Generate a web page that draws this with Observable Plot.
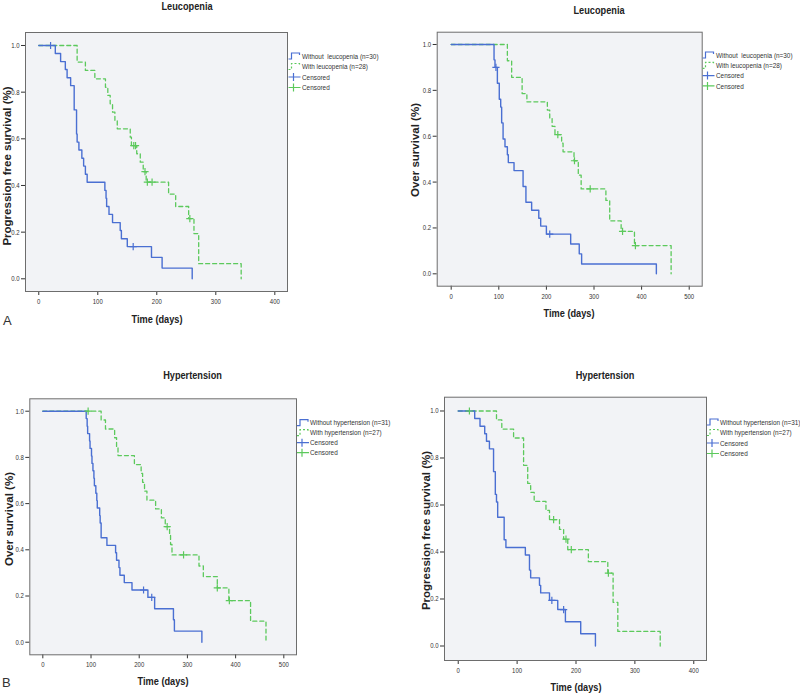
<!DOCTYPE html>
<html><head><meta charset="utf-8">
<script src="https://cdn.jsdelivr.net/npm/d3@7"></script>
<script src="https://cdn.jsdelivr.net/npm/@observablehq/plot@0.6"></script>
<style>
body{margin:0;background:#fff;}
#wrap{position:relative;width:800px;height:693px;overflow:hidden;background:#fff;}
</style></head><body><div id="wrap"></div>
<script>
// ---------- DATA ----------
// Panel 1: Leucopenia, progression free survival
const p1BlueT = [0, 28, 37, 45, 48, 54, 60, 64, 65, 68, 73, 76, 79, 82, 112, 114, 115, 119, 125, 138, 140, 150, 191, 209, 260];
const p1BlueS = [1, 0.966, 0.931, 0.897, 0.862, 0.828, 0.724, 0.621, 0.586, 0.552, 0.517, 0.483, 0.448, 0.414, 0.379, 0.345, 0.310, 0.276, 0.241, 0.207, 0.172, 0.138, 0.092, 0.046, 0];
const p1BlueCensT = [20, 160];
const p1BlueCensS = [1, 0.138];
const p1GreenT = [0, 65, 79, 95, 113, 117, 121, 125, 129, 133, 155, 157, 166, 172, 177, 182, 220, 232, 254, 263, 271, 343];
const p1GreenS = [1, 0.929, 0.893, 0.857, 0.821, 0.786, 0.750, 0.714, 0.679, 0.643, 0.607, 0.571, 0.536, 0.500, 0.459, 0.414, 0.363, 0.310, 0.258, 0.194, 0.065, 0];
const p1GreenCensT = [161, 164, 180, 184, 192, 256];
const p1GreenCensS = [0.571, 0.571, 0.459, 0.414, 0.414, 0.258];

// Panel 2: Leucopenia, overall survival
const p2BlueT = [0, 90, 92, 97, 101, 104, 106, 109, 113, 118, 120, 132, 151, 157, 169, 184, 188, 200, 251, 269, 274, 431];
const p2BlueS = [1, 0.933, 0.9, 0.831, 0.761, 0.727, 0.658, 0.588, 0.554, 0.519, 0.485, 0.45, 0.381, 0.312, 0.277, 0.242, 0.208, 0.173, 0.13, 0.087, 0.043, 0];
const p2BlueCensT = [94, 207];
const p2BlueCensS = [0.9, 0.173];
const p2GreenT = [0, 118, 127, 149, 159, 202, 207, 212, 218, 232, 235, 258, 267, 273, 325, 333, 357, 385, 462];
const p2GreenS = [1, 0.929, 0.857, 0.786, 0.75, 0.714, 0.679, 0.643, 0.607, 0.57, 0.532, 0.493, 0.43, 0.37, 0.32, 0.231, 0.185, 0.123, 0];
const p2GreenCensT = [224, 259, 292, 360, 387];
const p2GreenCensS = [0.607, 0.493, 0.37, 0.185, 0.123];

// Panel 3: Hypertension, overall survival
const p3BlueT = [0, 90, 92, 93, 97, 98, 101, 102, 104, 106, 107, 110, 112, 113, 118, 119, 121, 133, 151, 153, 158, 160, 169, 185, 218, 232, 271, 273, 330];
const p3BlueS = [1, 0.968, 0.935, 0.903, 0.871, 0.839, 0.806, 0.774, 0.742, 0.71, 0.677, 0.645, 0.613, 0.581, 0.548, 0.516, 0.452, 0.419, 0.387, 0.355, 0.323, 0.29, 0.258, 0.226, 0.194, 0.145, 0.097, 0.048, 0];
const p3BlueCensT = [209, 226];
const p3BlueCensS = [0.226, 0.194];
const p3GreenT = [0, 121, 130, 149, 153, 156, 190, 204, 207, 211, 216, 234, 246, 254, 263, 265, 268, 324, 333, 362, 386, 431, 463];
const p3GreenS = [1, 0.962, 0.923, 0.885, 0.846, 0.808, 0.769, 0.731, 0.692, 0.654, 0.615, 0.577, 0.538, 0.5, 0.462, 0.423, 0.378, 0.33, 0.284, 0.235, 0.18, 0.091, 0];
const p3GreenCensT = [94, 258, 292, 362, 387];
const p3GreenCensS = [1, 0.5, 0.378, 0.235, 0.18];

// Panel 4: Hypertension, progression free survival
const p4BlueT = [0, 28, 37, 45, 48, 53, 60, 63, 65, 67, 78, 81, 114, 121, 123, 138, 140, 155, 169, 182, 208, 233];
const p4BlueS = [1, 0.968, 0.935, 0.903, 0.871, 0.839, 0.742, 0.645, 0.613, 0.548, 0.452, 0.419, 0.387, 0.323, 0.29, 0.258, 0.226, 0.194, 0.155, 0.103, 0.052, 0];
const p4BlueCensT = [159, 179];
const p4BlueCensS = [0.194, 0.155];
const p4GreenT = [0, 65, 74, 94, 111, 118, 123, 129, 149, 155, 172, 179, 186, 221, 254, 263, 271, 343];
const p4GreenS = [1, 0.962, 0.923, 0.885, 0.769, 0.692, 0.654, 0.615, 0.577, 0.538, 0.496, 0.455, 0.41, 0.359, 0.31, 0.186, 0.062, 0];
const p4GreenCensT = [19, 162, 183, 192, 255];
const p4GreenCensS = [1, 0.538, 0.455, 0.41, 0.31];

// Tick labels and texts
const xTicks400 = [0, 100, 200, 300, 400];
const xTicks500 = [0, 100, 200, 300, 400, 500];
const yTicks = [0, 0.2, 0.4, 0.6, 0.8, 1.0];
const titles = ["Leucopenia", "Leucopenia", "Hypertension", "Hypertension"];
const yLabels = ["Progression free survival (%)", "Over survival (%)", "Over survival (%)", "Progression free survival (%)"];
const xLabel = "Time (days)";
const legendLeuco = ["Without  leucopenia (n=30)", "With leucopenia (n=28)", "Censored", "Censored"];
const legendHyper = ["Without hypertension (n=31)", "With hypertension (n=27)", "Censored", "Censored"];
const panelLetters = ["A", "B"];

// ---------- STYLE / LAYOUT ----------
const BLUE = "#4a6fd2";
const GREEN = "#5cc95c";
const SANS = '"Liberation Sans", Arial, sans-serif';

const layout = [
  {left:0, top:0, w:400, h:346, m:[25,32,113,55], xDom:[-22.5,421.5], yDom:[-0.0544,1.0557], xt:xTicks400,
   title:[187,6], xl:[157,319], yl:[6.5,166], leg:{sx:288.5, tx:302, y0:56, gap:10.5}, legend:legendLeuco},
  {left:400, top:0, w:400, h:346, m:[36.7,31.7,98.3,60.3], xDom:[-29.4,527.3], yDom:[-0.054,1.0536], xt:xTicks500,
   title:[599,10], xl:[569,312.7], yl:[415,150], leg:{sx:702.5, tx:716, y0:55, gap:10.3}, legend:legendLeuco},
  {left:0, top:346, w:400, h:347, m:[29.3,52.3,104,38.7], xDom:[-27,526.3], yDom:[-0.0545,1.0537], xt:xTicks500,
   title:[192.5,374.5], xl:[163,681], yl:[8.5,519], leg:{sx:297, tx:310, y0:422.7, gap:10}, legend:legendHyper},
  {left:400, top:346, w:400, h:347, m:[44,50.7,94,33], xDom:[-23.3,421.6], yDom:[-0.0617,1.0587], xt:xTicks400,
   title:[605,374.5], xl:[576,686.7], yl:[426,530.5], leg:{sx:707, tx:720, y0:422, gap:10.5}, legend:legendHyper}
];
const letterPos = [[3,325],[2,687]];

const series = (T, S) => T.map((t, i) => ({t, s: S[i]}));
const panelsData = [
  [p1BlueT,p1BlueS,p1BlueCensT,p1BlueCensS,p1GreenT,p1GreenS,p1GreenCensT,p1GreenCensS],
  [p2BlueT,p2BlueS,p2BlueCensT,p2BlueCensS,p2GreenT,p2GreenS,p2GreenCensT,p2GreenCensS],
  [p3BlueT,p3BlueS,p3BlueCensT,p3BlueCensS,p3GreenT,p3GreenS,p3GreenCensT,p3GreenCensS],
  [p4BlueT,p4BlueS,p4BlueCensT,p4BlueCensS,p4GreenT,p4GreenS,p4GreenCensT,p4GreenCensS]
];

const crossSymbol = {draw(ctx, size) {
  const r = Math.sqrt(size / Math.PI);
  ctx.moveTo(-r, 0); ctx.lineTo(r, 0); ctx.moveTo(0, -r); ctx.lineTo(0, r);
}};

const wrap = document.getElementById("wrap");

panelsData.forEach((d, k) => {
  const L = layout[k];
  const blue = series(d[0], d[1]), blueC = series(d[2], d[3]);
  const green = series(d[4], d[5]), greenC = series(d[6], d[7]);
  const svg = Plot.plot({
    width: L.w, height: L.h,
    marginLeft: L.m[0], marginTop: L.m[1], marginRight: L.m[2], marginBottom: L.m[3],
    x: {domain: L.xDom, label: null},
    y: {domain: L.yDom, label: null},
    style: {fontFamily: SANS, fontSize: "7.5px", color: "#333", background: "transparent", overflow: "visible"},
    marks: [
      Plot.frame({fill: "#f2f3f6", stroke: "none"}),
      Plot.axisX({ticks: L.xt, tickSize: 4, tickPadding: 3, label: null, tickFormat: d3.format("d")}),
      Plot.axisY({ticks: yTicks, tickSize: 4, tickPadding: 2, label: null, tickFormat: d3.format(".1f")}),
      Plot.line(green, {x: "t", y: "s", curve: "step-after", stroke: GREEN, strokeWidth: 1.3, strokeDasharray: "4,3"}),
      Plot.line(blue, {x: "t", y: "s", curve: "step-after", stroke: BLUE, strokeWidth: 1.4}),
      Plot.dot(greenC, {x: "t", y: "s", symbol: crossSymbol, r: 3.6, stroke: GREEN, strokeWidth: 1.2, fill: "none"}),
      Plot.dot(blueC, {x: "t", y: "s", symbol: crossSymbol, r: 3.6, stroke: BLUE, strokeWidth: 1.2, fill: "none"}),
      Plot.frame({stroke: "#6d6d6d", strokeWidth: 1})
    ]
  });
  svg.style.position = "absolute";
  svg.style.left = L.left + "px";
  svg.style.top = L.top + "px";
  svg.style.maxWidth = "none";
  // condense the tick labels horizontally like the reference
  svg.querySelectorAll("text").forEach(t => {
    const tr = t.getAttribute("transform");
    if (tr && tr.includes("translate")) t.setAttribute("transform", tr + " scale(0.8,1)");
  });
  wrap.appendChild(svg);
});

// ---------- Overlay: titles, axis titles, legends, panel letters ----------
const ov = d3.select(wrap).append("svg")
  .attr("width", 800).attr("height", 693)
  .style("position", "absolute").style("left", "0px").style("top", "0px")
  .style("pointer-events", "none")
  .attr("font-family", SANS).attr("fill", "#222");

layout.forEach((L, k) => {
  ov.append("text").attr("transform", `translate(${L.title[0]},${L.title[1]}) scale(0.8,1)`)
    .attr("text-anchor", "middle").attr("dy", "0.35em")
    .attr("font-weight", "bold").attr("font-size", 11.5).text(titles[k]);
  ov.append("text").attr("transform", `translate(${L.xl[0]},${L.xl[1]}) scale(0.8,1)`)
    .attr("text-anchor", "middle").attr("dy", "0.35em")
    .attr("font-weight", "bold").attr("font-size", 11.5).text(xLabel);
  ov.append("text").attr("transform", `translate(${L.yl[0]},${L.yl[1]}) rotate(-90)`)
    .attr("text-anchor", "middle").attr("dy", "0.35em")
    .attr("font-weight", "bold").attr("font-size", 11.5).text(yLabels[k]);
  // legend
  const g = L.leg;
  L.legend.forEach((lab, i) => {
    const y = g.y0 + i * g.gap;
    const col = i % 2 === 0 ? BLUE : GREEN;
    if (i < 2) {
      ov.append("path")
        .attr("d", `M${g.sx},${y + 3}H${g.sx + 3}V${y - 3}H${g.sx + 11}V${y - 1}`)
        .attr("fill", "none").attr("stroke", col).attr("stroke-width", 1.2)
        .attr("stroke-dasharray", i === 1 ? "2,2" : null);
    } else {
      ov.append("path")
        .attr("d", `M${g.sx},${y}H${g.sx + 12}M${g.sx + 5},${y - 4}V${y + 4}`)
        .attr("fill", "none").attr("stroke", col).attr("stroke-width", 1.2);
    }
    ov.append("text").attr("transform", `translate(${g.tx},${y}) scale(0.82,1)`)
      .attr("dy", "0.35em").attr("font-size", 7.8).attr("fill", "#333")
      .style("white-space", "pre").text(lab);
  });
});
panelLetters.forEach((s, i) => {
  ov.append("text").attr("x", letterPos[i][0]).attr("y", letterPos[i][1])
    .attr("font-size", 13).attr("fill", "#333").text(s);
});
</script></body></html>
